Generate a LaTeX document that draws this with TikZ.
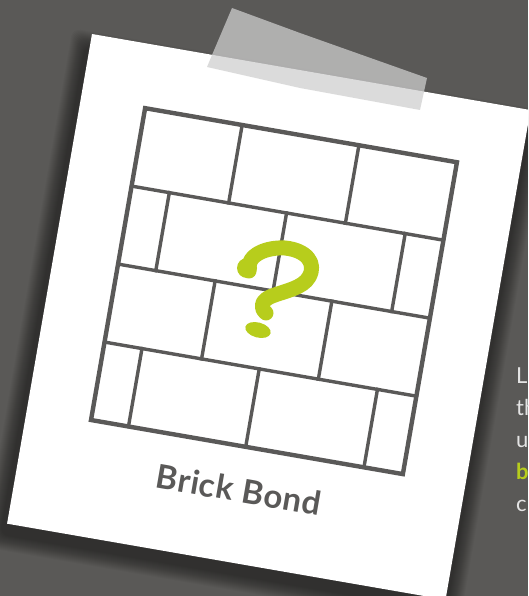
\documentclass[tikz,border=0pt]{standalone}
\usepackage{fontspec}
\newfontfamily\lato{Lato}
\definecolor{bgc}{RGB}{90,89,87}
\definecolor{linec}{RGB}{90,89,88}
\definecolor{qgreen}{RGB}{183,205,28}
\definecolor{tapec}{RGB}{207,207,207}
\definecolor{sidetext}{RGB}{228,228,228}
\tikzset{
  outerline/.style={draw=linec, line width=4.4pt, line join=miter},
  innerline/.style={draw=linec, line width=3.4pt, line cap=rect},
  sidelabel/.style={anchor=base west, inner sep=0pt, text=sidetext, font=\lato\fontsize{22}{26}\selectfont},
}
\begin{document}
\begin{tikzpicture}[x=1pt,y=-1pt]
\useasboundingbox (0,0) rectangle (528,596);
\clip (0,0) rectangle (528,596);
\fill[bgc] (0,0) rectangle (528,596);
% card
\begin{scope}[shift={(92,34)}, rotate=-9.84]
  \foreach \e in {1,...,16} {
    \fill[black, opacity=0.03, rounded corners=8pt] (-4-\e, 14-\e) rectangle (447+\e, 508+\e);
  }
  \fill[white] (0,0) rectangle (445,497);
  % grid
  \begin{scope}[shift={(65,64)}]
    \draw[innerline] (0,79.1) -- (316.5,79.1);
    \draw[innerline] (0,158.25) -- (316.5,158.25);
    \draw[innerline] (0,237.4) -- (316.5,237.4);
    % row 1
    \draw[innerline] (98.5,0) -- (98.5,79.1);
    \draw[innerline] (217,0) -- (217,79.1);
    % row 2
    \draw[innerline] (38.3,79.1) -- (38.3,158.25);
    \draw[innerline] (157.3,79.1) -- (157.3,158.25);
    \draw[innerline] (277.7,79.1) -- (277.7,158.25);
    % row 3
    \draw[innerline] (98.5,158.25) -- (98.5,237.4);
    \draw[innerline] (217,158.25) -- (217,237.4);
    % row 4
    \draw[innerline] (38,237.4) -- (38,316.5);
    \draw[innerline] (157,237.4) -- (157,316.5);
    \draw[innerline] (277,237.4) -- (277,316.5);
    \draw[outerline] (0,0) rectangle (316.5,316.5);
  \end{scope}
  \node[rotate=-9.84, inner sep=0pt, text=linec, font={\lato\bfseries\fontsize{33}{38}\selectfont\addfontfeatures{LetterSpace=2}}] (title) at (222.5,424) {Brick Bond};
\end{scope}
% tape
\fill[tapec, opacity=0.73] (232,8) -- (300,33) -- (427,78) -- (420,110) -- (300,88) -- (207,67) -- (212,55) -- cycle;
% question mark
\draw[qgreen, line width=15pt, line cap=round, line join=round]
  (249,271) .. controls (246,254) and (268,247) .. (285,248)
  .. controls (306,250) and (317,263) .. (309,277)
  .. controls (303,288) and (285,291) .. (272,296)
  .. controls (262,300) and (259,307) .. (266,313);
\fill[qgreen] (247,268) circle (10);
\fill[qgreen, rotate around={-15:(258,330)}] (258,330) ellipse [x radius=13, y radius=7.5];
% side text (cut off)
\node[sidelabel] (l1) at (516,383) {L};
\node[sidelabel] (l2) at (516,415) {th};
\node[sidelabel] (l3) at (516,447) {u};
\node[sidelabel, text=qgreen, font=\lato\bfseries\fontsize{22}{26}\selectfont] (l4) at (516,479) {b};
\node[sidelabel] (l5) at (516,511) {c};
\end{tikzpicture}
\end{document}
